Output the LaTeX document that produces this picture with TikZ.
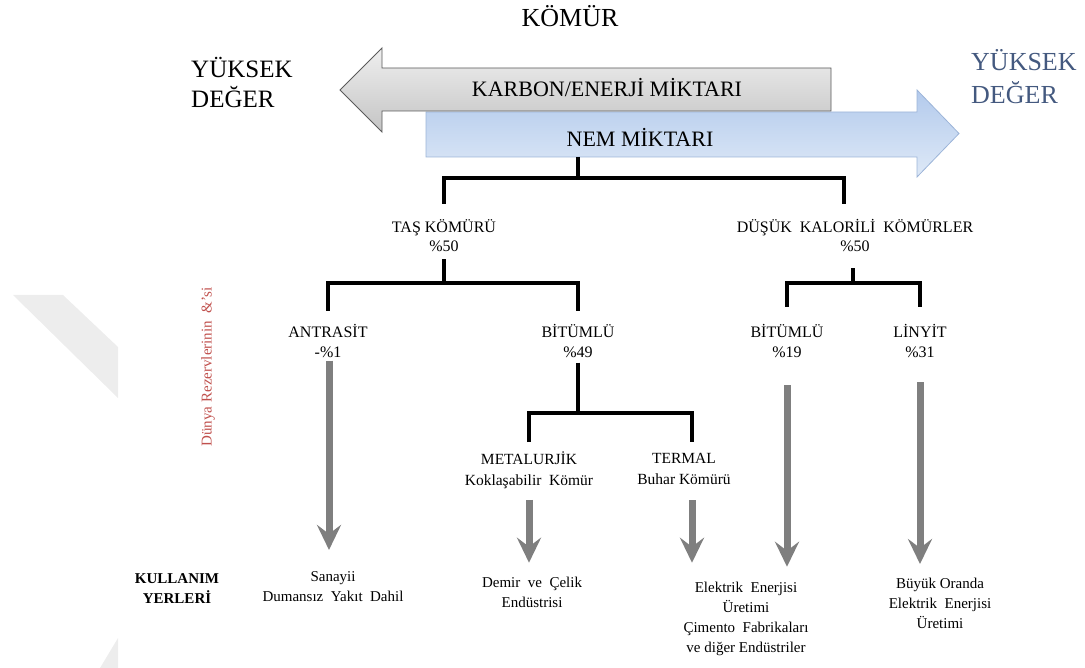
\documentclass[tikz,border=0pt]{standalone}
\usepackage{fontspec}
\setmainfont{Liberation Serif}
\usetikzlibrary{arrows.meta,calc}
\definecolor{usegray}{HTML}{7F7F7F}
\definecolor{valblue}{HTML}{44597F}
\definecolor{reztxt}{HTML}{C0504D}
\definecolor{wmark}{HTML}{EDEDED}
\definecolor{carbtop}{HTML}{EFEFEF}
\definecolor{carbbot}{HTML}{C4C4C4}
\definecolor{carbline}{HTML}{5A5A5A}
\definecolor{nemtop}{HTML}{B3CAEC}
\definecolor{nembot}{HTML}{DEE9F7}
\definecolor{nemline}{HTML}{9CB4D8}
\begin{document}
\begin{tikzpicture}[x=1pt,y=-1pt,
  tree/.style={line width=4.8pt, black, line join=miter},
  lbl/.style={inner sep=0pt, align=center, font=\fontsize{16}{19.5}\selectfont},
  sublbl/.style={inner sep=0pt, align=center, font=\fontsize{15.5}{21}\selectfont},
  uselbl/.style={inner sep=0pt, align=center, font=\fontsize{15}{20}\selectfont},
  usearrow/.style={draw=usegray, line width=7pt, -{Stealth[length=25pt,width=24pt,inset=9pt]}},
  bigtxt/.style={inner sep=0pt, anchor=base, font=\fontsize{22}{26}\selectfont}]
\useasboundingbox (0,0) rectangle (1085,668);
% faint watermark
\fill[wmark] (13,295) -- (63,295) -- (118,347) -- (118,398) -- cycle;
\fill[wmark] (100,668) -- (118,638) -- (118,668) -- cycle;

% title and side labels
\node[inner sep=0pt, anchor=base, font=\fontsize{26}{30}\selectfont] (title) at (570,26.6) {KÖMÜR};
\node[inner sep=0pt, anchor=west, align=left, font=\fontsize{25}{30}\selectfont] (hvl) at (191,82.5) {YÜKSEK\\DEĞER};
\node[inner sep=0pt, anchor=west, align=left, text=valblue, font=\fontsize{26}{33}\selectfont] (hvr) at (971,77) {YÜKSEK\\DEĞER};

% big arrows
\path[draw=nemline, line width=0.8pt, top color=nemtop, bottom color=nembot]
  (426,112) -- (917,112) -- (917,90) -- (959,133.5) -- (917,177) -- (917,157) -- (426,157) -- cycle;
\path[draw=carbline, line width=0.9pt, top color=carbtop, bottom color=carbbot]
  (340,90) -- (382,48) -- (382,68) -- (831,68) -- (831,111) -- (382,111) -- (382,132) -- cycle;
\node[bigtxt] (carb) at (607,97) {KARBON/ENERJİ MİKTARI};
\node[bigtxt] (nem) at (640,146.3) {NEM MİKTARI};

% red vertical label
\node[rotate=90, inner sep=0pt, text=reztxt, font=\fontsize{15}{18}\selectfont] (rez) at (208,367) {Dünya Rezervlerinin\ \ \&'si};

% tree labels
\node[lbl] (tas) at (444,235.6) {TAŞ KÖMÜRÜ\\\%50};
\node[lbl] (dus) at (855,235.6) {DÜŞÜK\ \ KALORİLİ\ \ KÖMÜRLER\\\%50};
\node[lbl] (ant) at (328,341) {ANTRASİT\\-\%1};
\node[lbl] (bit1) at (578,341) {BİTÜMLÜ\\\%49};
\node[lbl] (bit2) at (787,341) {BİTÜMLÜ\\\%19};
\node[lbl] (lin) at (920,341) {LİNYİT\\\%31};
\node[sublbl] (met) at (529,470.7) {METALURJİK\\Koklaşabilir\ \ Kömür};
\node[sublbl] (ter) at (684,468.6) {TERMAL\\Buhar Kömürü};

% usage labels
\node[inner sep=0pt, align=center, font=\bfseries\fontsize{15}{20}\selectfont] (kul) at (177,589) {KULLANIM\\YERLERİ};
\node[uselbl] (san) at (333,586.9) {Sanayii\\Dumansız\ \ Yakıt\ \ Dahil};
\node[uselbl] (dem) at (532,591.9) {Demir\ \ ve\ \ Çelik\\Endüstrisi};
\node[uselbl] (elek) at (746,618.5) {Elektrik\ \ Enerjisi\\Üretimi\\Çimento\ \ Fabrikaları\\ve diğer Endüstriler};
\node[uselbl] (buy) at (940,603.6) {Büyük Oranda\\Elektrik\ \ Enerjisi\\Üretimi};

% tree connectors
\coordinate (nemb) at (578,157);
\coordinate (j0) at (578,178);
\coordinate (b0l) at (444,204);
\coordinate (b0r) at (844,204);
\draw[tree] (nemb) -- (j0);
\draw[tree] (b0l) |- (j0) -| (b0r);

\coordinate (j1) at (444,283);
\coordinate (b1l) at (328,311);
\coordinate (b1r) at (578,311);
\draw[tree] ($(tas.south)+(0,7)$) -- (j1);
\draw[tree] (b1l) |- (j1) -| (b1r);

\coordinate (j2) at (853,283);
\coordinate (b2l) at (787,307);
\coordinate (b2r) at (920,307);
\draw[tree] ($(dus.south -| j2)+(0,16)$) -- (j2);
\draw[tree] (b2l) |- (j2) -| (b2r);

\coordinate (j3) at (578,413);
\coordinate (b3l) at (529,442);
\coordinate (b3r) at (692,442);
\draw[tree] ($(bit1.south)+(0,5)$) -- (j3);
\draw[tree] (b3l) |- (j3) -| (b3r);

% usage arrows
\draw[usearrow, shorten <=3pt, shorten >=21.7pt] ([xshift=1pt]ant.south) -- ([xshift=1pt]ant.south |- san.north);
\draw[usearrow, shorten <=10.5pt, shorten >=13.7pt] (met.south) -- (met.south |- dem.north);
\draw[usearrow, shorten <=15.7pt, shorten >=18.7pt] ([xshift=8pt]ter.south) -- ([xshift=8pt]ter.south |- elek.north);
\draw[usearrow, shorten <=27.5pt, shorten >=14.7pt] (bit2.south) -- (bit2.south |- elek.north);
\draw[usearrow, shorten <=24.5pt, shorten >=14.1pt] (lin.south) -- (lin.south |- buy.north);
\end{tikzpicture}
\end{document}
